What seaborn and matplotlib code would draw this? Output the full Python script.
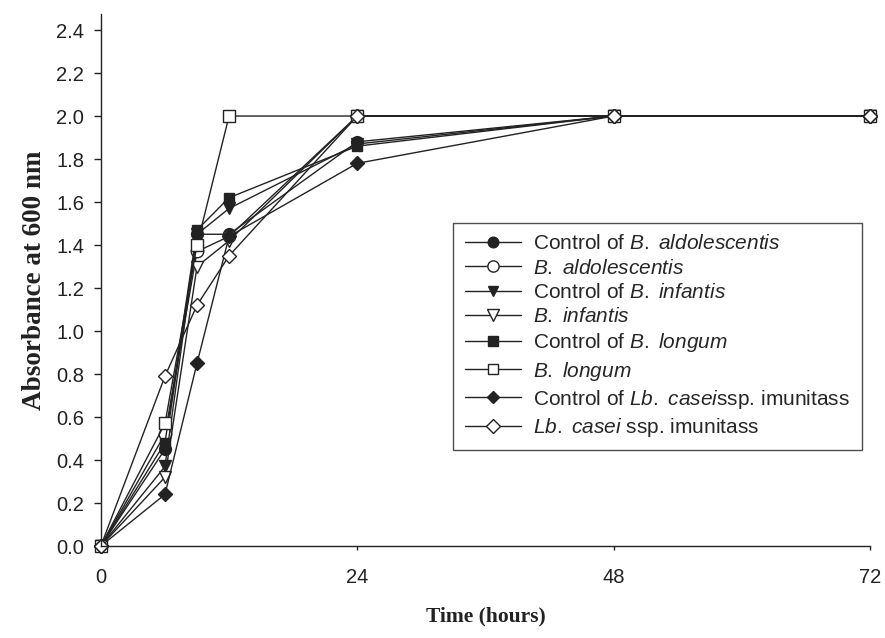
import matplotlib
matplotlib.use("Agg")
import matplotlib.pyplot as plt
import seaborn as sns
import pandas as pd

# Sampling times (hours)
hours = [0, 6, 9, 12, 24, 48, 72]

# Absorbance at 600 nm for each culture
ctrl_aldolescentis = [0.0, 0.45, 1.45, 1.45, 1.88, 2.0, 2.0]
aldolescentis      = [0.0, 0.52, 1.37, 1.44, 2.0, 2.0, 2.0]
ctrl_infantis      = [0.0, 0.37, 1.45, 1.57, 1.87, 2.0, 2.0]
infantis           = [0.0, 0.32, 1.30, 1.42, 2.0, 2.0, 2.0]
ctrl_longum        = [0.0, 0.48, 1.47, 1.62, 1.86, 2.0, 2.0]
longum             = [0.0, 0.57, 1.40, 2.0, 2.0, 2.0, 2.0]
ctrl_casei         = [0.0, 0.24, 0.85, 1.44, 1.78, 2.0, 2.0]
casei              = [0.0, 0.79, 1.12, 1.35, 2.0, 2.0, 2.0]

labels = [
    r"Control of $\mathit{B.}$ $\mathit{aldolescentis}$",
    r"$\mathit{B.}$ $\mathit{aldolescentis}$",
    r"Control of $\mathit{B.}$ $\mathit{infantis}$",
    r"$\mathit{B.}$ $\mathit{infantis}$",
    r"Control of $\mathit{B.}$ $\mathit{longum}$",
    r"$\mathit{B.}$ $\mathit{longum}$",
    r"Control of $\mathit{Lb.}$ $\mathit{casei}$ssp. imunitass",
    r"$\mathit{Lb.}$ $\mathit{casei}$ ssp. imunitass",
]
series = [ctrl_aldolescentis, aldolescentis, ctrl_infantis, infantis,
          ctrl_longum, longum, ctrl_casei, casei]
markers = ["o", "o", "v", "v", "s", "s", "D", "D"]
filled = [True, False, True, False, True, False, True, False]
msizes = [8.5, 9, 8.5, 9, 7.5, 8, 7, 7.5]

rows = []
for lab, vals in zip(labels, series):
    for t, v in zip(hours, vals):
        rows.append({"Time": t, "Absorbance": v, "Series": lab})
df = pd.DataFrame(rows)

sns.set_style("ticks")
plt.rcParams["font.family"] = ["Liberation Sans", "DejaVu Sans"]
plt.rcParams["mathtext.fontset"] = "custom"
plt.rcParams["mathtext.rm"] = "Liberation Sans"
plt.rcParams["mathtext.it"] = "Liberation Sans:italic"

ink = "#222222"
fig = plt.figure(figsize=(8.85, 6.38), dpi=100)
ax = fig.add_axes([0.114, 0.1442, 0.869, 0.834])

for lab, m, f, ms in zip(labels, markers, filled, msizes):
    sub = df[df["Series"] == lab]
    sns.lineplot(data=sub, x="Time", y="Absorbance", ax=ax, color=ink,
                 linewidth=1.0, marker=m, markersize=ms,
                 markerfacecolor=ink if f else "white",
                 markeredgecolor=ink, markeredgewidth=1.0,
                 label=lab, clip_on=False)

ax.set_xlim(0, 72)
ax.set_ylim(0, 2.475)
ax.set_xticks([0, 24, 48, 72])
yt = [0.0, 0.2, 0.4, 0.6, 0.8, 1.0, 1.2, 1.4, 1.6, 1.8, 2.0, 2.2, 2.4]
ax.set_yticks(yt)
ax.set_yticklabels([f"{v:.1f}" for v in yt])
ax.tick_params(axis="x", direction="out", length=3, width=1, pad=13,
               labelsize=14.5, colors=ink)
ax.tick_params(axis="y", direction="out", length=5, width=1, pad=7,
               labelsize=14.5, colors=ink)
for s in ("top", "right"):
    ax.spines[s].set_visible(False)
for s in ("left", "bottom"):
    ax.spines[s].set_linewidth(1.0)
    ax.spines[s].set_color(ink)

ax.set_xlabel("Time (hours)", labelpad=14, family="Liberation Serif",
              weight="bold", size=15.5, color=ink)
ax.set_ylabel("Absorbance at 600 nm", labelpad=7, family="Liberation Serif",
              weight="bold", size=19.5, color=ink)

leg = ax.legend(loc="upper left", bbox_to_anchor=(0.458, 0.607), frameon=True,
                fancybox=False, edgecolor=ink, fontsize=15,
                handlelength=2.7, handletextpad=0.6, labelspacing=0.25,
                borderpad=0.55, borderaxespad=0, markerscale=0.9)
leg.get_frame().set_linewidth(1.0)

fig.savefig("out.png", dpi=100)
